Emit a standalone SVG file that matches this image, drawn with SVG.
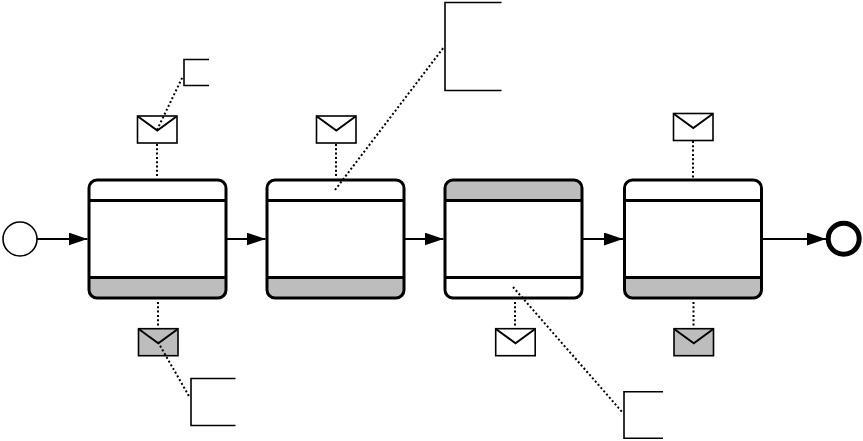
<svg xmlns="http://www.w3.org/2000/svg" width="863" height="441" viewBox="0 0 863 441">
<style>
.base{fill:#fff;stroke:none}
.frame{fill:none;stroke:#000;stroke-width:3}
.grey{fill:#bdbdbd}
.white{fill:#fff}
.env{stroke:#000;stroke-width:1.6}
.flap{fill:none;stroke:#000;stroke-width:2}
.note{fill:none;stroke:#000;stroke-width:1.6}
.flow{stroke:#000;stroke-width:1.8;fill:none;marker-end:url(#arrow)}
.dot{stroke:#000;stroke-width:2;fill:none;stroke-dasharray:2 2.300}
</style>
<defs>
<marker id="arrow" markerUnits="userSpaceOnUse" markerWidth="19" markerHeight="13" refX="19" refY="6.500" orient="auto"><path d="M0 0L19 6.500L0 13Z" fill="#000"/></marker>
<rect id="body" class="base" width="137" height="118" rx="8"/>
<g id="frame" class="frame"><path d="M0 20.500H137M0 97.500H137"/><rect width="137" height="118" rx="8"/></g>
<path id="top" d="M0 20.500V8a8 8 0 0 1 8-8H129a8 8 0 0 1 8 8V20.500Z"/>
<path id="bottom" d="M0 97.500H137V110a8 8 0 0 1-8 8H8a8 8 0 0 1-8-8Z"/>
<g id="envelope"><rect width="39.500" height="27" class="env"/><path class="flap" d="M0.500 0.500L19.800 14.500L39 0.500"/></g>
</defs>
<g id="task1" transform="translate(89 180)"><use href="#body"/><use href="#bottom" class="grey"/><use href="#frame"/></g>
<g id="task2" transform="translate(267 180)"><use href="#body"/><use href="#bottom" class="grey"/><use href="#frame"/></g>
<g id="task3" transform="translate(445 180)"><use href="#body"/><use href="#top" class="grey"/><use href="#frame"/></g>
<g id="task4" transform="translate(624.500 180)"><use href="#body"/><use href="#bottom" class="grey"/><use href="#frame"/></g>
<g id="start"><circle cx="20" cy="239" r="17" fill="#fff" stroke="#000" stroke-width="1.600"/></g>
<g id="end"><circle cx="843.700" cy="238.700" r="15.500" fill="#fff" stroke="#000" stroke-width="5"/></g>
<g id="msg1" transform="translate(137.500 116)"><use href="#envelope" class="white"/></g>
<g id="msg2" transform="translate(316.500 116)"><use href="#envelope" class="white"/></g>
<g id="msg3" transform="translate(673.500 113.500)"><use href="#envelope" class="white"/></g>
<g id="msg4" transform="translate(138.500 328.700)"><use href="#envelope" class="grey"/></g>
<g id="msg5" transform="translate(495.700 328.700)"><use href="#envelope" class="white"/></g>
<g id="msg6" transform="translate(674 328.700)"><use href="#envelope" class="grey"/></g>
<g id="note1"><path class="note" d="M209 59.500H184V85.500H209"/></g>
<g id="note2"><path class="note" d="M501.500 2.500H445V90.500H501.500"/></g>
<g id="note3"><path class="note" d="M235.500 378.500H191V425.500H235.500"/></g>
<g id="note4"><path class="note" d="M663 391.700H624V438.300H663"/></g>
<g id="connectors">
<path class="flow" d="M37 239H87.500"/>
<path class="flow" d="M227 239H265.500"/>
<path class="flow" d="M405 239H443.500"/>
<path class="flow" d="M583 239H623"/>
<path class="flow" d="M762.500 239H826"/>
<path class="dot" d="M157 144V178"/>
<path class="dot" d="M157 130L183 76"/>
<path class="dot" d="M158 302V326"/>
<path class="dot" d="M158 342L190 398"/>
<path class="dot" d="M336 144V178"/>
<path class="dot" d="M335 190L444 47"/>
<path class="dot" d="M515 302V326"/>
<path class="dot" d="M513 287L623 413"/>
<path class="dot" d="M693 141V178"/>
<path class="dot" d="M693.500 302V326"/>
</g>
</svg>
